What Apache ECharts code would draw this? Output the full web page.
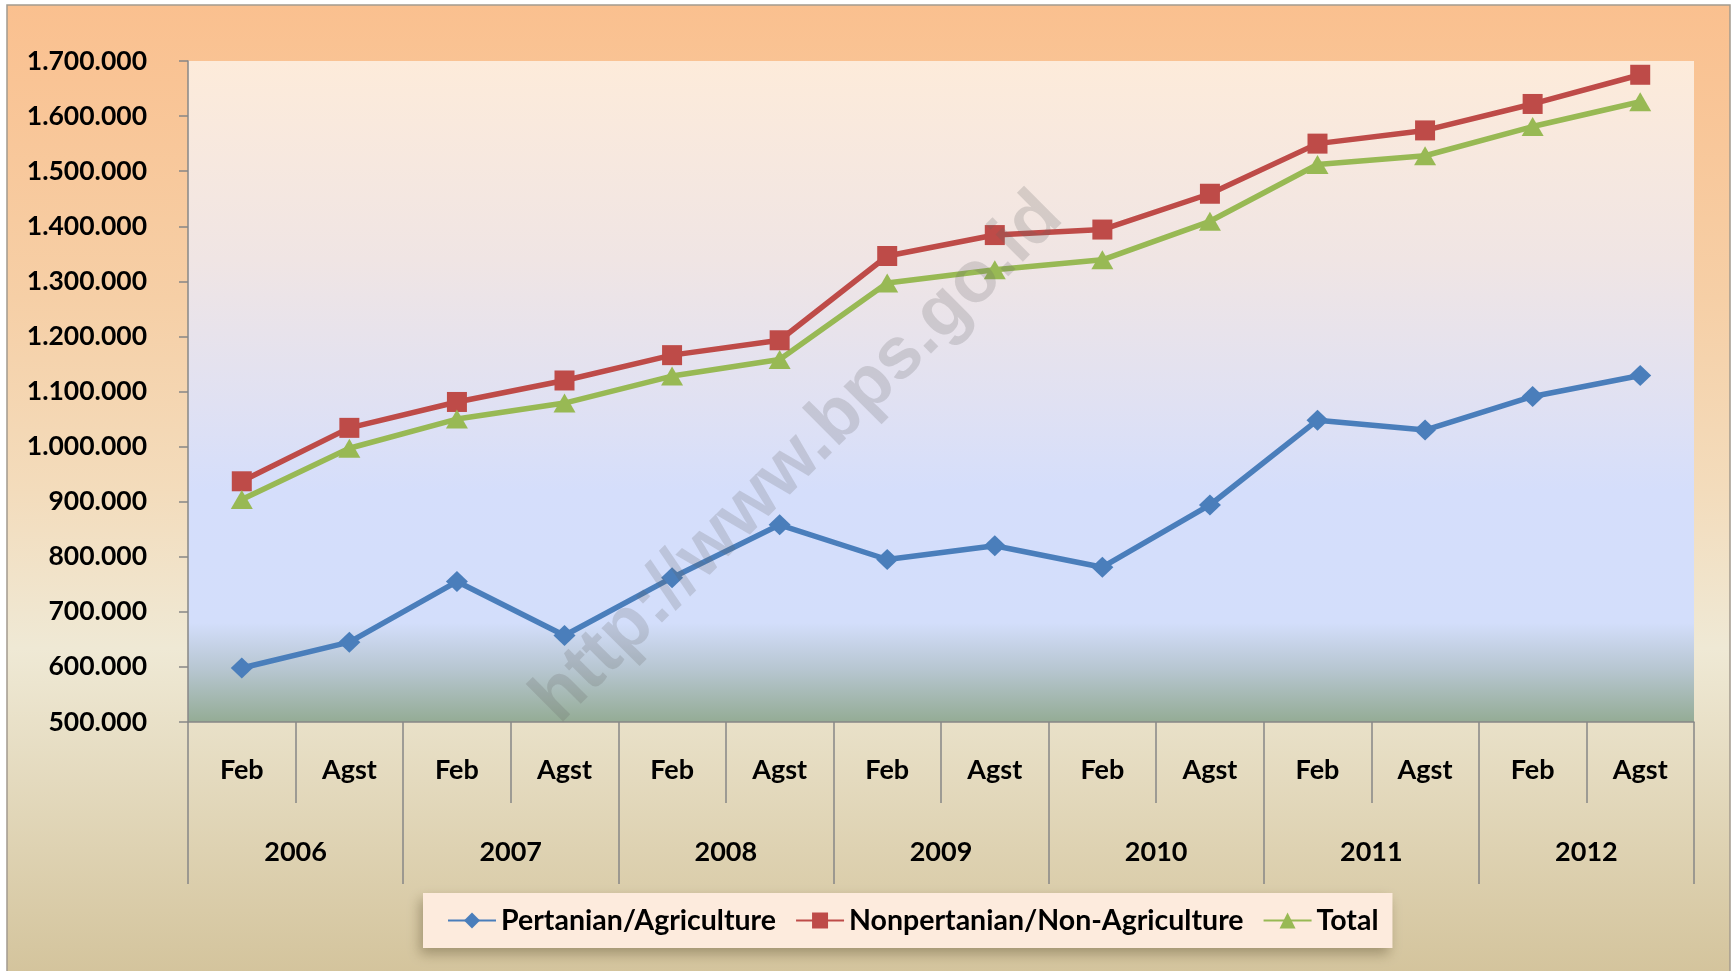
<!DOCTYPE html>
<html>
<head>
<meta charset="utf-8">
<script src="https://cdn.jsdelivr.net/npm/echarts@6/dist/echarts.min.js"></script>
<style>
	html, body { margin: 0; padding: 0; background: #fff; }
	#chart { width: 1733px; height: 971px; }
</style>
</head>
<body>
<div id="chart"></div>
<script>
// kategori periode
var months = ['Feb','Agst','Feb','Agst','Feb','Agst','Feb','Agst','Feb','Agst','Feb','Agst','Feb','Agst'];
var years = ['2006','2007','2008','2009','2010','2011','2012'];

// nilai
var agriculture = [598000, 645000, 755000, 657000, 762000, 858000, 795000, 820000, 781000, 894000, 1048000, 1030000, 1091000, 1129000];
var nonAgriculture = [937000, 1034000, 1081000, 1120000, 1166000, 1193000, 1346000, 1384000, 1394000, 1459000, 1550000, 1574000, 1622000, 1675000];
var total = [904000, 997000, 1050000, 1079000, 1128000, 1158000, 1297000, 1321000, 1339000, 1409000, 1512000, 1528000, 1581000, 1626000];

var seriesNames = ['Pertanian/Agriculture', 'Nonpertanian/Non-Agriculture', 'Total'];

var FONT = 'Lato';

function fmtNumber(v) {
	return String(v).replace(/\B(?=(\d{3})+(?!\d))/g, '.');
}

var chart = echarts.init(document.getElementById('chart'));

var tickStyle = { color: '#878787', width: 1.5 };

var option = {
	backgroundColor: '#ffffff',
	animation: false,
	textStyle: { fontFamily: FONT },
	graphic: [
		{
			type: 'rect',
			z: -10,
			shape: { x: 7, y: 5, width: 1723, height: 975 },
			style: {
				fill: {
					type: 'linear', x: 0, y: 0, x2: 0, y2: 1,
					colorStops: [
						{ offset: 0, color: '#FAC08F' },
						{ offset: 0.3, color: '#F6CFA6' },
						{ offset: 0.5, color: '#F3DCBC' },
						{ offset: 0.66, color: '#EFE9D5' },
						{ offset: 1, color: '#D3C39B' }
					]
				},
				stroke: '#A29A8E',
				lineWidth: 1.5
			}
		},
		{
			// watermark
			type: 'text',
			z: 100,
			x: 798,
			y: 458,
			rotation: Math.PI / 4,
			style: {
				text: 'http://www.bps.go.id',
				fontFamily: 'Liberation Sans',
				fontWeight: 'bold',
				fontSize: 73,
				fill: 'rgba(100,100,100,0.21)',
				align: 'center',
				verticalAlign: 'middle'
			}
		}
	],
	grid: {
		left: 188,
		right: 39,
		top: 61,
		bottom: 249,
		show: true,
		borderWidth: 0,
		backgroundColor: {
			type: 'linear', x: 0, y: 0, x2: 0, y2: 1,
			colorStops: [
				{ offset: 0, color: '#FDEBDA' },
				{ offset: 0.3, color: '#F0E5E4' },
				{ offset: 0.52, color: '#E0E1F3' },
				{ offset: 0.65, color: '#D5DEFB' },
				{ offset: 0.85, color: '#D3DEFB' },
				{ offset: 0.92, color: '#B7C6D1' },
				{ offset: 1, color: '#94AC95' }
			]
		}
	},
	legend: {
		left: 423,
		top: 893,
		data: seriesNames,
		itemWidth: 48,
		itemHeight: 20,
		itemGap: 19,
		padding: [13, 14, 13, 24],
		backgroundColor: '#FDEBDD',
		shadowColor: 'rgba(60,50,20,0.35)',
		shadowBlur: 12,
		shadowOffsetX: -3,
		shadowOffsetY: 6,
		textStyle: {
			fontFamily: FONT,
			fontWeight: 'bold',
			fontSize: 28.5,
			color: '#000'
		}
	},
	xAxis: [
		{
			type: 'category',
			position: 'bottom',
			data: months,
			boundaryGap: true,
			axisLine: { show: true, lineStyle: tickStyle },
			axisTick: { show: true, length: 81, interval: 0, lineStyle: tickStyle },
			axisLabel: {
				interval: 0,
				margin: 35,
				fontFamily: FONT,
				fontWeight: 'bold',
				fontSize: 27,
				color: '#000'
			}
		},
		{
			type: 'category',
			position: 'bottom',
			data: years,
			boundaryGap: true,
			axisLine: { show: false },
			axisTick: { show: true, length: 162, interval: 0, lineStyle: tickStyle },
			axisLabel: {
				interval: 0,
				margin: 117,
				fontFamily: FONT,
				fontWeight: 'bold',
				fontSize: 27,
				color: '#000'
			}
		}
	],
	yAxis: {
		type: 'value',
		min: 500000,
		max: 1700000,
		interval: 100000,
		splitLine: { show: false },
		axisLine: { show: true, lineStyle: tickStyle },
		axisTick: { show: true, length: 9, lineStyle: tickStyle },
		axisLabel: {
			margin: 41,
			fontFamily: FONT,
			fontWeight: 'bold',
			fontSize: 26.5,
			color: '#000',
			formatter: fmtNumber
		}
	},
	series: [
		{
			name: seriesNames[0],
			type: 'line',
			xAxisIndex: 0,
			data: agriculture,
			symbol: 'diamond',
			symbolSize: [22, 21],
			lineStyle: { color: '#4A7EBB', width: 5.5 },
			itemStyle: { color: '#4A7EBB' }
		},
		{
			name: seriesNames[1],
			type: 'line',
			xAxisIndex: 0,
			data: nonAgriculture,
			symbol: 'rect',
			symbolSize: 20,
			lineStyle: { color: '#BE4B48', width: 5.5 },
			itemStyle: { color: '#BE4B48' }
		},
		{
			name: seriesNames[2],
			type: 'line',
			xAxisIndex: 0,
			data: total,
			symbol: 'triangle',
			symbolSize: [22, 19],
			lineStyle: { color: '#98B954', width: 5.5 },
			itemStyle: { color: '#98B954' }
		}
	]
};

chart.setOption(option);
</script>
</body>
</html>
